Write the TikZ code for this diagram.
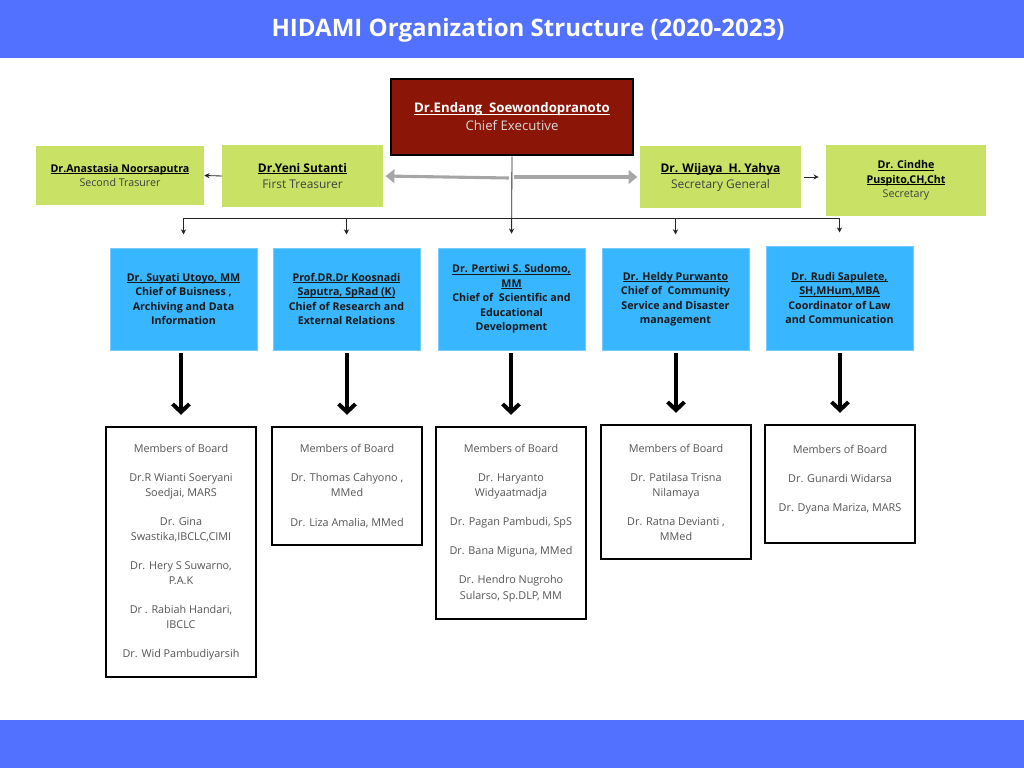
\documentclass[tikz,border=0pt]{standalone}
\usepackage{fontspec}
\setmainfont{Open Sans}
\usetikzlibrary{arrows.meta}
\definecolor{bannerblue}{HTML}{5271FF}
\definecolor{chiefred}{HTML}{8B1506}
\definecolor{limegreen}{HTML}{C9E265}
\definecolor{skyblue}{HTML}{38B6FF}
\definecolor{arrowgray}{HTML}{A6A6A6}
\definecolor{textgray}{HTML}{555555}
% underline close to the baseline
\newcommand{\ul}[1]{\setbox0\hbox{#1}\rlap{\rule[-1.1pt]{\wd0}{0.5pt}}\box0}
\begin{document}
\begin{tikzpicture}[
    x=0.025cm, y=-0.025cm,
    chiefbox/.style={rectangle, draw=black, line width=2pt, fill=chiefred, text=white, minimum width=6.05cm, minimum height=1.9cm, align=center, font=\fontsize{9.4}{12.8}\selectfont},
    greenbox/.style={rectangle, fill=limegreen, minimum width=4cm, minimum height=1.55cm, align=center, font=\fontsize{8.5}{11.3}\selectfont},
    smallgreen/.style={greenbox, font=\fontsize{7.6}{10.3}\selectfont},
    divbox/.style={rectangle, fill=skyblue, draw=skyblue!70!white, minimum width=3.675cm, minimum height=2.55cm, align=center, font=\bfseries\fontsize{7.6}{10.3}\selectfont, text=black!90},
    boardbox/.style={rectangle, draw=black, line width=1.4pt, fill=white, minimum width=3.75cm, anchor=north, align=center, text=textgray, font=\fontsize{7.7}{10.7}\selectfont},
    link/.style={-{Stealth[length=1.3mm, width=1.3mm]}, black!85, line width=0.6pt},
    grayarrow/.style={-{Triangle[length=2.2mm, width=3.4mm]}, arrowgray, line width=2.2pt},
    bigarrow/.style={-{Straight Barb[length=2mm, width=4.2mm]}, black, line width=1mm}
]
    \useasboundingbox (0,0) rectangle (1024,768);

    % Banners
    \fill[bannerblue] (0,0) rectangle (1024,58);
    \fill[bannerblue] (0,720) rectangle (1024,768);
    \node[text=white, font=\bfseries\fontsize{17.1}{20}\selectfont] (title) at (528,30) {HIDAMI Organization Structure (2020-2023)};

    % Top level
    \node[chiefbox] (chief) at (512,117) {\textbf{\ul{Dr.Endang\ \ Soewondopranoto}}\\ \textcolor{white!85!black}{Chief Executive}};
    \node[greenbox] (yeni) at (302.5,176) {\textbf{\ul{Dr.Yeni Sutanti}}\\ \textcolor{black!75}{First Treasurer}};
    \node[smallgreen, minimum width=4.2cm, minimum height=1.475cm] (anastasia) at (120,175.5) {\textbf{\ul{Dr.Anastasia Noorsaputra}}\\ \textcolor{black!75}{Second Trasurer}};
    \node[greenbox] (wijaya) at (720.5,177) {\textbf{\ul{Dr. Wijaya\ \ H. Yahya}}\\ \textcolor{black!75}{Secretary General}};
    \node[smallgreen, minimum height=1.775cm] (cindhe) at (906,180.5) {\textbf{\ul{Dr. Cindhe}}\\ \textbf{\ul{Puspito,CH,Cht}}\\ \textcolor{black!75}{Secretary}};

    % Divisions
    \node[divbox] (div1) at (183.5,299) {\ul{Dr. Suyati Utoyo, MM}\\ Chief of Buisness ,\\ Archiving and Data\\ Information};
    \node[divbox] (div2) at (346.5,299) {\ul{Prof.DR.Dr Koosnadi}\\ \ul{Saputra, SpRad (K)}\\ Chief of Research and\\ External Relations};
    \node[divbox] (div3) at (511.5,299) {\ul{Dr. Pertiwi S. Sudomo,}\\ \ul{MM}\\ Chief of\ \ Scientific and\\ Educational\\ Development};
    \node[divbox] (div4) at (675.5,299) {\ul{Dr. Heldy Purwanto}\\ Chief of\ \ Community\\ Service and Disaster\\ management};
    \node[divbox, minimum height=2.6cm] (div5) at (839.5,298) {\ul{Dr. Rudi Sapulete,}\\ \ul{SH,MHum,MBA}\\ Coordinator of Law\\ and Communication};

    % Members of Board
    \node[boardbox, minimum height=6.25cm] (board1) at (181,426) {Members of Board\\[0.35cm] Dr.R Wianti Soeryani\\ Soedjai, MARS\\[0.35cm] Dr. Gina\\ Swastika,IBCLC,CIMI\\[0.35cm] Dr. Hery S Suwarno,\\ P.A.K\\[0.35cm] Dr . Rabiah Handari,\\ IBCLC\\[0.35cm] Dr. Wid Pambudiyarsih};
    \node[boardbox, minimum height=2.95cm] (board2) at (347,426) {Members of Board\\[0.35cm] Dr. Thomas Cahyono ,\\ MMed\\[0.35cm] Dr. Liza Amalia, MMed};
    \node[boardbox, minimum height=4.8cm] (board3) at (511,426) {Members of Board\\[0.35cm] Dr. Haryanto\\ Widyaatmadja\\[0.35cm] Dr. Pagan Pambudi, SpS\\[0.35cm] Dr. Bana Miguna, MMed\\[0.35cm] Dr. Hendro Nugroho\\ Sularso, Sp.DLP, MM};
    \node[boardbox, minimum height=3.35cm] (board4) at (676,424) {Members of Board\\[0.35cm] Dr. Patilasa Trisna\\ Nilamaya\\[0.35cm] Dr. Ratna Devianti ,\\ MMed};
    \node[boardbox, minimum height=2.95cm] (board5) at (840,424) {Members of Board\\[0.35cm] Dr. Gunardi Widarsa\\[0.35cm] Dr. Dyana Mariza, MARS\\[-0.08cm]\mbox{}};

    % Connectors
    \coordinate (bus) at (512,218);
    \draw[grayarrow, shorten >=2pt] (chief.south |- yeni.east) ++(-3,2) -- (yeni.east);
    \draw[grayarrow, shorten >=2pt] (chief.south |- wijaya.west) ++(2,0) -- (wijaya.west);
    \draw[link] (yeni.west) -- (anastasia.east);
    \draw[link, shorten <=2pt, shorten >=5pt] (wijaya.east) -- (wijaya.east -| cindhe.west);
    \draw[link, shorten >=0.35cm] (chief.south) -- (div3.north);
    \foreach \i in {1,2,4,5}
        \draw[link, shorten >=0.33cm] (bus) -| (div\i.north);
    \foreach \i in {1,...,5}
        \draw[bigarrow, shorten <=2pt, shorten >=0.28cm] (board\i.north |- div\i.south) -- (board\i.north);
\end{tikzpicture}
\end{document}
